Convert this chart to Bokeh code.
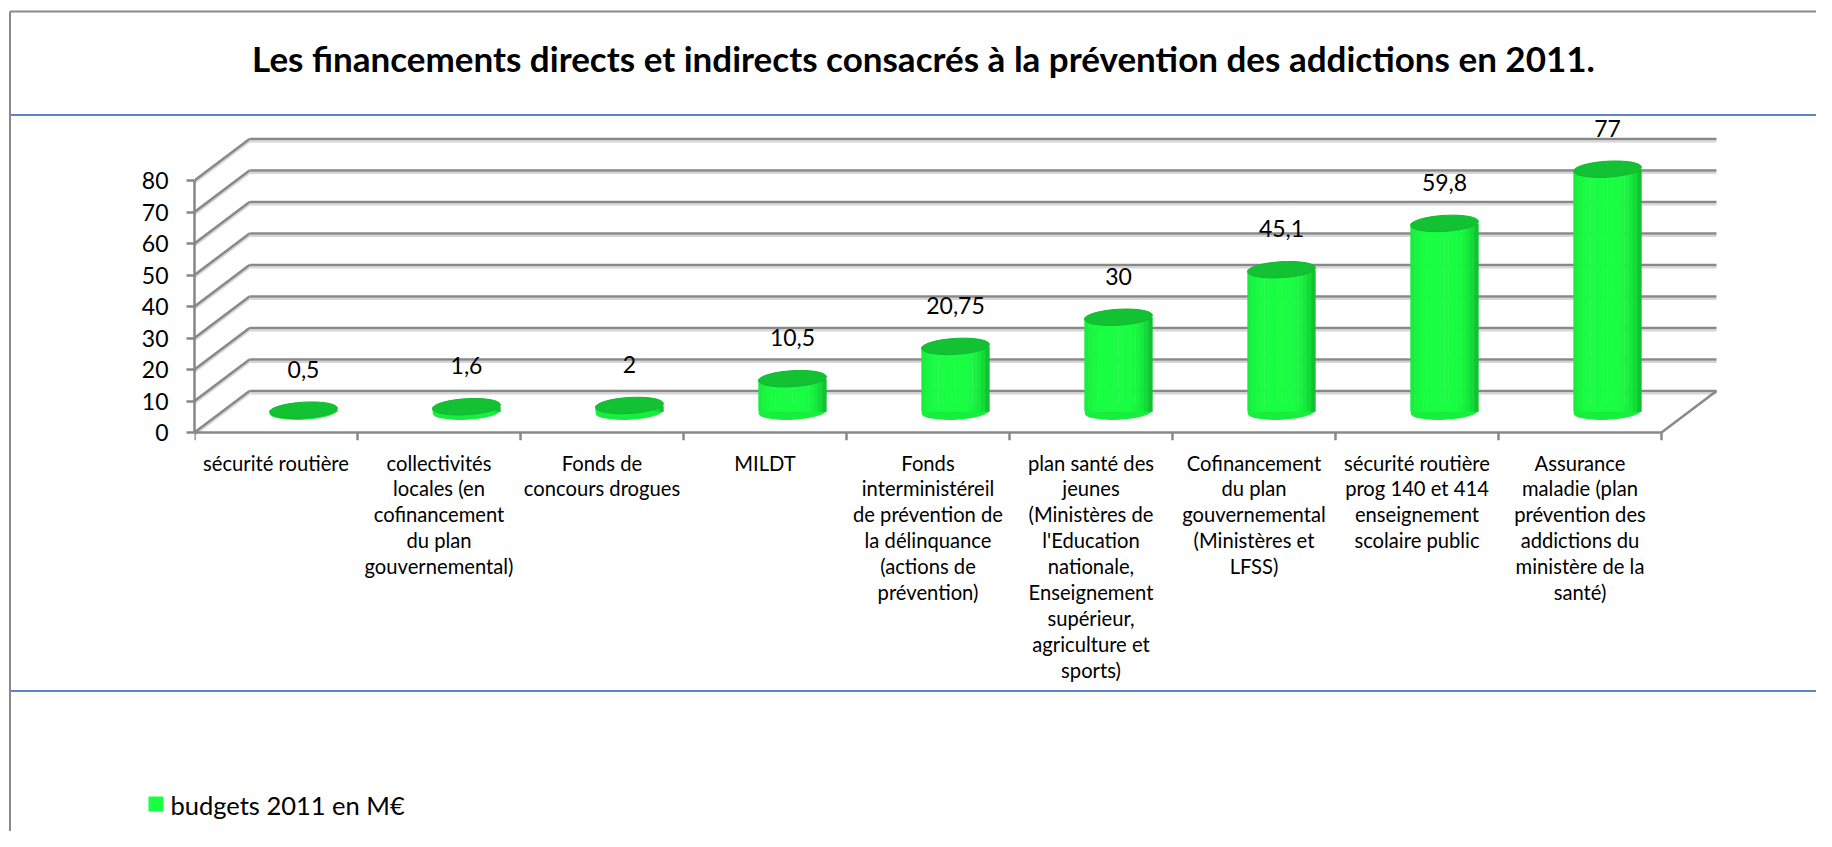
import numpy as np
from bokeh.plotting import figure
from bokeh.models import Range1d, FixedTicker, ColumnDataSource
from bokeh.core.properties import value
from bokeh.embed import file_html
from bokeh.resources import INLINE

# ---------------- data ----------------
title_text = "Les financements directs et indirects consacrés à la prévention des addictions en 2011."
categories = [
    "sécurité routière",
    "collectivités\nlocales (en\ncofinancement\ndu plan\ngouvernemental)",
    "Fonds de\nconcours drogues",
    "MILDT",
    "Fonds\ninterministéreil\nde prévention de\nla délinquance\n(actions de\nprévention)",
    "plan santé des\njeunes\n(Ministères de\nl'Education\nnationale,\nEnseignement\nsupérieur,\nagriculture et\nsports)",
    "Cofinancement\ndu plan\ngouvernemental\n(Ministères et\nLFSS)",
    "sécurité routière\nprog 140 et 414\nenseignement\nscolaire public",
    "Assurance\nmaladie (plan\nprévention des\naddictions du\nministère de la\nsanté)",
]
values = [0.5, 1.6, 2, 10.5, 20.75, 30, 45.1, 59.8, 77]
value_labels = ["0,5", "1,6", "2", "10,5", "20,75", "30", "45,1", "59,8", "77"]
y_ticks = [0, 10, 20, 30, 40, 50, 60, 70, 80]
series_name = "budgets 2011 en M€"

# ---------------- layout constants (canvas px) ----------------
FIG_W, FIG_H = 1816, 831
F_LEFT, F_RIGHT, F_TOP, F_BOTTOM = 194, 1722, 100, 440
CAT_PX = 163.0          # px per category
ZERO_PY = 432.0         # canvas y of value 0 on the front face
PX_PER_UNIT = 3.15      # px per value unit

def cx(px):
    return (px - F_LEFT) / CAT_PX

def cy(py):
    return (ZERO_PY - py) / PX_PER_UNIT

DX = 55 / CAT_PX        # depth offset (x)
DY = 41.5 / PX_PER_UNIT # depth offset (y)
BAR_W = 68 / CAT_PX
ELL_H = 16 / PX_PER_UNIT

FONT = "Lato"
GREEN = "#19ff41"
n = len(values)

p = figure(width=FIG_W, height=FIG_H, output_backend="svg", toolbar_location=None,
           x_range=Range1d(0, cx(F_RIGHT)), y_range=Range1d(cy(F_BOTTOM), cy(F_TOP)),
           min_border_left=F_LEFT, min_border_right=FIG_W - F_RIGHT,
           min_border_top=F_TOP, min_border_bottom=FIG_H - F_BOTTOM)
p.outline_line_color = None
p.xgrid.visible = False
p.ygrid.visible = False
p.background_fill_color = "white"
p.border_fill_color = "white"

# ---------------- y axis ----------------
ya = p.yaxis[0]
ya.bounds = (0, 80)
ya.ticker = FixedTicker(ticks=y_ticks)
ya.axis_line_color = "#868686"
ya.axis_line_width = 2.5
ya.major_tick_line_color = "#868686"
ya.major_tick_line_width = 2.5
ya.major_tick_out = 8
ya.major_tick_in = 0
ya.minor_tick_line_color = None
ya.major_label_standoff = 18
ya.major_label_text_font = FONT
ya.major_label_text_font_size = "23px"
ya.major_label_text_color = "black"

# ---------------- x axis (category labels) ----------------
centers = [i + 0.5 for i in range(n)]
xa = p.xaxis[0]
xa.ticker = FixedTicker(ticks=centers)
xa.major_label_overrides = {c: lab for c, lab in zip(centers, categories)}
xa.axis_line_color = None
xa.major_tick_line_color = None
xa.minor_tick_line_color = None
xa.major_tick_out = 0
xa.major_label_standoff = 10
xa.major_label_text_font = FONT
xa.major_label_text_font_size = "20.2px"
xa.major_label_text_color = "black"
xa.major_label_text_line_height = 1.08

# ---------------- 3D walls ----------------
GRID = "#888888"
SHADOW = "#d6d6d6"
sh = 2.5 / PX_PER_UNIT
m = len(y_ticks)
# back wall gridlines (shadow then line)
p.segment(x0=[DX] * m, y0=[t + DY - sh for t in y_ticks],
          x1=[n + DX] * m, y1=[t + DY - sh for t in y_ticks],
          line_color=SHADOW, line_width=2)
p.segment(x0=[DX] * m, y0=[t + DY for t in y_ticks],
          x1=[n + DX] * m, y1=[t + DY for t in y_ticks],
          line_color=GRID, line_width=2.5)
# left wall diagonals
p.segment(x0=[0] * m, y0=[t - sh for t in y_ticks],
          x1=[DX] * m, y1=[t + DY - sh for t in y_ticks],
          line_color=SHADOW, line_width=2)
p.segment(x0=[0] * m, y0=y_ticks,
          x1=[DX] * m, y1=[t + DY for t in y_ticks],
          line_color=GRID, line_width=2.5)
# floor front edge, right diagonal and category boundary ticks
p.segment(x0=[0, n], y0=[0, 0], x1=[n, n + DX], y1=[0, DY],
          line_color=GRID, line_width=2.5)
p.segment(x0=list(range(n + 1)), y0=[0] * (n + 1),
          x1=list(range(n + 1)), y1=[-8 / PX_PER_UNIT] * (n + 1),
          line_color=GRID, line_width=2.5)

# ---------------- cylinders ----------------
base = DY / 2
xc = [c + DX / 2 for c in centers]
tops = [base + v for v in values]

BRIGHT = np.array([26, 255, 68])
DARK = np.array([14, 180, 44])
N_STRIPS = 16
sx, sb, st, scol = [], [], [], []
for i in range(n):
    for k in range(N_STRIPS):
        t = (k + 0.5) / N_STRIPS * 2 - 1
        s = 1 - ((t + 0.15) / 1.15) ** 4
        s = max(0.0, min(1.0, s))
        rgb = (DARK + (BRIGHT - DARK) * s).astype(int)
        sx.append(xc[i] - BAR_W / 2 + (k + 0.5) * BAR_W / N_STRIPS)
        sb.append(base)
        st.append(tops[i])
        scol.append("#%02x%02x%02x" % tuple(rgb))

# bottom ellipses
p.ellipse(x=xc, y=[base] * n, width=BAR_W, height=ELL_H, angle=0.05,
          fill_color="#17ee3e", line_color=None)
strips = ColumnDataSource(dict(x=sx, bottom=sb, top=st, color=scol))
p.vbar(x="x", bottom="bottom", top="top", width=BAR_W / N_STRIPS * 1.08,
       fill_color="color", line_color=None, source=strips)
# top ellipses
p.ellipse(x=xc, y=tops, width=BAR_W, height=ELL_H, angle=0.06,
          fill_color="#12c233", line_color="#11b830", line_width=1)

# data labels
p.text(x=xc, y=tops, text=value_labels, text_align="center", text_baseline="middle",
       y_offset=-41, text_font=value(FONT), text_font_size="23px", text_color="black")

# ---------------- title ----------------
p.text(x=[cx(923)], y=[cy(57)], text=[title_text], text_align="center",
       text_baseline="middle", text_font=value(FONT), text_font_style="bold",
       text_font_size="35px", text_color="black", level="overlay")

# ---------------- frame decorations (page lines) ----------------
blue = "#5a86c4"
p.segment(x0=[cx(9.5)] * 2, y0=[cy(114.5), cy(690.5)], x1=[cx(FIG_W)] * 2,
          y1=[cy(114.5), cy(690.5)], line_color=blue, line_width=2, level="overlay")
p.segment(x0=[cx(9.5), cx(9.5)], y0=[cy(11), cy(11)], x1=[cx(9.5), cx(FIG_W)],
          y1=[cy(FIG_H), cy(11)], line_color="#8a8a8a", line_width=2, level="overlay")

# ---------------- legend (drawn below the chart) ----------------
p.segment(x0=[cx(148)], y0=[cy(803.5)], x1=[cx(163)], y1=[cy(803.5)],
          line_color=GREEN, line_width=15, line_cap="butt", level="overlay")
p.text(x=[cx(170)], y=[cy(804)], text=[series_name], text_align="left",
       text_baseline="middle", text_font=value(FONT), text_font_size="25.5px",
       text_color="black", level="overlay")

open("out.html", "w").write(file_html(p, INLINE))
